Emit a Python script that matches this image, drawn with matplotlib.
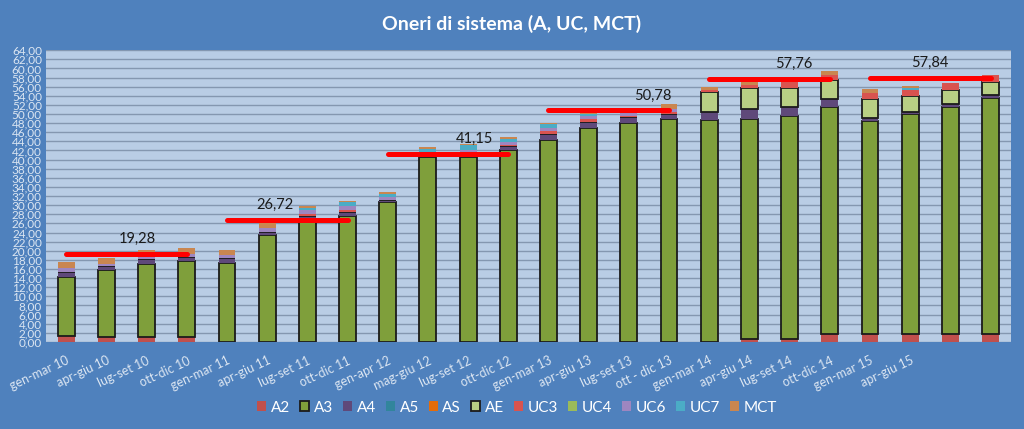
import numpy as np
import matplotlib.pyplot as plt

plt.rcParams['font.family'] = ['Lato', 'DejaVu Sans']

periods = ['gen-mar 10', 'apr-giu 10', 'lug-set 10', 'ott-dic 10',
           'gen-mar 11', 'apr-giu 11', 'lug-set 11', 'ott-dic 11',
           'gen-apr 12', 'mag-giu 12', 'lug-set 12', 'ott-dic 12',
           'gen-mar 13', 'apr-giu 13', 'lug-set 13', 'ott - dic 13',
           'gen-mar 14', 'apr-giu 14', 'lug-set 14', 'ott-dic 14',
           'gen-mar 15', 'apr-giu 15', '', '']

# stacked components (c€/kWh), bottom to top
A2 = [1.2, 1.0, 1.0, 1.0, 0, 0, 0, 0, 0, 0, 0, 0,
      0, 0, 0, 0, 0, 0.7, 0.7, 1.7, 1.7, 1.7, 1.7, 1.7]
A3 = [13.1, 14.8, 16.2, 16.7, 17.4, 23.4, 26.5, 27.6, 30.6, 40.6, 40.6, 42.1,
      44.3, 47.0, 48.1, 48.8, 48.7, 48.3, 48.9, 49.9, 46.8, 48.2, 49.9, 51.8]
A4 = [1.1, 0.8, 1.0, 0.9, 0.9, 0.8, 1.2, 0.9, 0.6, 0.3, 0.5, 0.8,
      1.4, 1.2, 1.2, 1.2, 1.8, 2.2, 2.0, 1.8, 0.7, 0.6, 0.5, 0.6]
A5 = [0] * 24
AS = [0] * 24
AE = [0, 0, 0, 0, 0, 0, 0, 0, 0, 0, 0, 0,
      0, 0, 0, 0, 4.4, 4.4, 4.2, 4.0, 4.0, 3.5, 3.1, 3.0]
UC3 = [0, 0, 0, 0, 0, 0, 0.4, 0.5, 0, 0.4, 0.5, 0.3,
       0.5, 0.6, 0.3, 0.4, 0.3, 0.8, 1.2, 1.1, 1.5, 1.2, 1.5, 1.4]
UC4 = [0] * 24
UC6 = [0.8, 0.6, 0.9, 0.75, 0.8, 0.7, 0.8, 0.8, 0.5, 0.3, 0.6, 0.6,
       0.8, 0.8, 0.8, 0.8, 0, 0, 0, 0, 0, 0, 0, 0]
UC7 = [0, 0, 0, 0, 0, 0, 0.5, 0.8, 0.7, 0.8, 0.9, 0.8,
       0.7, 0.3, 0, 0, 0, 0, 0, 0, 0, 0.6, 0, 0]
MCT = [1.4, 1.3, 1.0, 1.3, 1.0, 1.1, 0.4, 0.4, 0.4, 0.4, 0.4, 0.4,
       0.4, 0.6, 0.6, 1.0, 0.8, 0.7, 0.4, 0.9, 0.7, 0.4, 0, 0]

# yearly averages, one per group of 4 quarters
avg_values = [19.28, 26.72, 41.15, 50.78, 57.76, 57.84]
avg_labels = ['19,28', '26,72', '41,15', '50,78', '57,76', '57,84']

series = [('A2', A2, '#C0504D'), ('A3', A3, '#7F9F3B'), ('A4', A4, '#5F497A'),
          ('A5', A5, '#31859C'), ('AS', AS, '#E46C0A'), ('AE', AE, '#B8CF84'),
          ('UC3', UC3, '#D9534F'), ('UC4', UC4, '#9BBB59'), ('UC6', UC6, '#9E86C0'),
          ('UC7', UC7, '#4BACC6'), ('MCT', MCT, '#C98650')]
edged = {'A3', 'AE'}

fig = plt.figure(figsize=(10.24, 4.29), dpi=100, facecolor='#4F81BD')
ax = fig.add_axes([0.045, 0.203, 0.942, 0.680])
ax.set_facecolor('#B9CDE5')

x = np.arange(len(periods))
bottom = np.zeros(len(periods))
handles = []
for name, vals, col in series:
    vals = np.array(vals, dtype=float)
    if name in edged:
        b = ax.bar(x, vals, 0.42, bottom=bottom, color=col, edgecolor='#1b1b1b',
                   linewidth=1.3, label=name, zorder=2)
    else:
        b = ax.bar(x, vals, 0.42, bottom=bottom, color=col, linewidth=0,
                   label=name, zorder=2)
    handles.append(b)
    bottom += vals

label_offsets = [1.77, 1.2, 2.15, 2.6, 2.1, 1.5]
for i, v in enumerate(avg_values):
    s = i * 4
    ax.plot([s, s + 3], [v, v], color='#FF0000', lw=3.6, solid_capstyle='round', zorder=4)
    ax.text(s + label_offsets[i], v + 3.3, avg_labels[i], ha='center', va='center',
            fontsize=10.5, color='#1a1a1a', zorder=5)

ax.set_xlim(-0.5, len(periods) - 0.5)
ax.set_ylim(0, 64)
yt = np.arange(0, 65, 2)
ax.set_yticks(yt)
ax.set_yticklabels([f'{v:.2f}'.replace('.', ',') for v in yt], fontsize=8.5, color='#DCE6F2')
ax.set_xticks(x)
ax.set_xticklabels(periods, rotation=25, ha='right', rotation_mode='anchor',
                   fontsize=9, color='#DCE6F2')
ax.tick_params(length=0, axis='both')
ax.tick_params(axis='x', pad=9)
ax.tick_params(axis='y', pad=3)
ax.grid(axis='y', color='#8497B0', lw=1, zorder=0)
ax.set_axisbelow(True)
for sp in ax.spines.values():
    sp.set_visible(False)

fig.text(0.5, 0.945, 'Oneri di sistema (A, UC, MCT)', ha='center', va='center',
         fontsize=14, fontweight='bold', color='white')

fig.legend(handles=handles, labels=[s[0] for s in series], loc='center',
           bbox_to_anchor=(0.505, 0.05), ncol=11, frameon=False, fontsize=11,
           labelcolor='white', handlelength=0.6, handleheight=0.6,
           handletextpad=0.3, columnspacing=0.65)

fig.savefig('out.png', dpi=100, facecolor=fig.get_facecolor())
